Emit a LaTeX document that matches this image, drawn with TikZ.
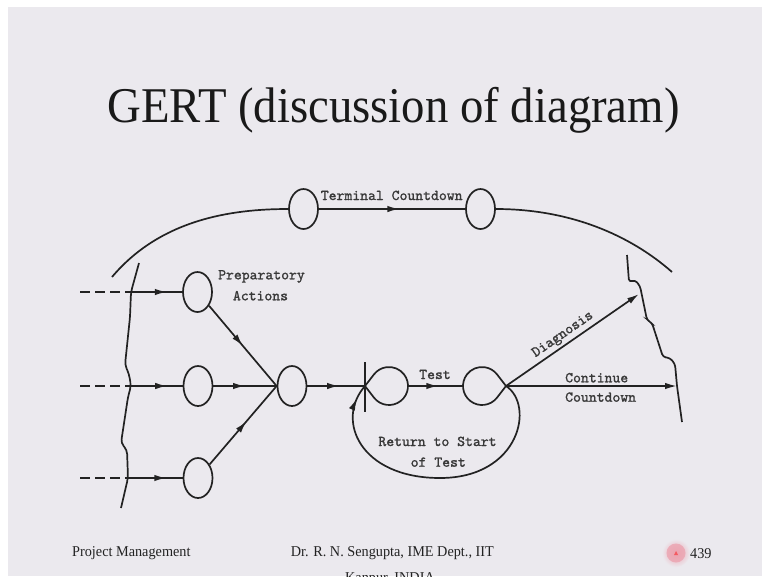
\documentclass[tikz,border=0pt]{standalone}
\usepackage{fontspec}
\setmainfont{Liberation Serif}
\newfontfamily\diagfont[FakeBold=1.3]{lmmono10-regular.otf}
\usetikzlibrary{arrows.meta,decorations.markings,shapes.geometric,calc}
\definecolor{slide}{HTML}{EBE9EE}
\definecolor{ink}{HTML}{222222}
\definecolor{badge}{HTML}{EBA3B0}
\tikzset{
  ln/.style={line width=1.7, draw=ink},
  ev/.style={ellipse, draw=ink, line width=1.7, minimum width=29, minimum height=40, inner sep=0},
  lbl/.style={font=\fontsize{15}{20}\selectfont\diagfont, text=ink!90, inner sep=0},
  foot/.style={font=\fontsize{15}{18}\selectfont, text=ink, xscale=0.95, inner sep=0},
  tip/.style={-{Latex[length=12,width=6.5]}},
  midarrow/.style={postaction={decorate}, decoration={markings,
      mark=at position #1 with {\arrow{Latex[length=12,width=6.5]}}}},
}
\begin{document}
\begin{tikzpicture}[x=1pt,y=-1pt]
\useasboundingbox (0,0) rectangle (762,576);
\clip (0,0) rectangle (762,576);
% slide background
\fill[white] (0,0) rectangle (762,576);
\fill[slide] (8,7) rectangle (762,576);

% title
\node[font=\fontsize{50}{55}\selectfont, text=black!90, xscale=0.935, anchor=base] (title) at (393.5,122) {GERT (discussion of diagram)};

% event nodes
\node[ev] (tc1) at (303.5,209) {};
\node[ev] (tc2) at (480.5,209) {};
\node[ev] (p1) at (197.5,292) {};
\node[ev] (p2) at (198,386) {};
\node[ev] (p3) at (198,478) {};
\node[ev] (m) at (292,386) {};

% test start and end points
\coordinate (s) at (365,386);
\coordinate (sc) at (389,386);
\coordinate (sR) at (408,386);
\coordinate (e) at (506,386);
\coordinate (ec) at (482,386);
\coordinate (eL) at (463,386);
\coordinate (sTop) at (365,362);
\coordinate (sBot) at (365,412);

% junctions on the incoming boundary and free ends
\coordinate (j1) at (131,292);
\coordinate (j2) at (131,386);
\coordinate (j3) at (128,478);
\coordinate (d1) at (80,292);
\coordinate (d2) at (80,386);
\coordinate (d3) at (80,478);
\coordinate (aL) at (112,277);
\coordinate (aR) at (672,272);
\coordinate (dg) at (639,294);
\coordinate (cc) at (677,386);

% teardrop-shaped test nodes
\draw[ln, line join=round] (s) -- ([shift={(142.3:19)}]sc) arc[start angle=142.3, end angle=-142.3, radius=19] -- cycle;
\draw[ln] (sTop) -- (sBot);
\draw[ln, line join=round] (e) -- ([shift={(37.7:19)}]ec) arc[start angle=37.7, end angle=322.3, radius=19] -- cycle;

% terminal countdown arc
\draw[ln] (aL) .. controls (160,220) and (230,209) .. (tc1.west);
\draw[ln, midarrow=0.55] (tc1) -- (tc2);
\draw[ln] (tc2.east) .. controls (570,209) and (630,235) .. (aR);

% incoming boundary
\draw[ln, rounded corners=4] (139,263) -- (j1) -- (130,317) -- (125,365) -- (129,374) -- (j2)
  -- (128,397) -- (121,443) -- (127,450) -- (j3) -- (121,508);
\draw[ln, dash pattern=on 10 off 5] (d1) -- (j1);
\draw[ln, dash pattern=on 10 off 5] (d2) -- (j2);
\draw[ln, dash pattern=on 10 off 5] (d3) -- (j3);
\draw[ln, midarrow=0.7] (j1) -- (p1);
\draw[ln, midarrow=0.7] (j2) -- (p2);
\draw[ln, midarrow=0.7] (j3) -- (p3);

% preparatory actions merge
\draw[ln, midarrow=0.5] (p1) -- (m.west);
\draw[ln, midarrow=0.5] (p2) -- (m);
\draw[ln, midarrow=0.55] (p3) -- (m.west);
\draw[ln, midarrow=0.55] (m) -- (s);

% test and its outcomes
\draw[ln, midarrow=0.55] (sR) -- (eL);
\draw[ln, tip] (e) -- (dg) node[lbl, pos=0.47, sloped, above=2.5] {Diagnosis};
\draw[ln, tip] (e) -- (cc);
\draw[ln, midarrow=0.95] (e) .. controls (535,405) and (520,478) .. (440,478)
  .. controls (360,478) and (335,420) .. (s);

% outgoing boundary
\draw[ln, rounded corners=3] (627,255) -- (629,282) -- (635,280) -- (640,286) -- (647,320)
  -- (652,323) -- (663,357) -- (670,358) -- (675,364) -- (cc) -- (682,422);

% labels
\node[lbl, anchor=base] at (391.7,200) {Terminal Countdown};
\node[lbl, anchor=base] at (261.5,279.3) {Preparatory};
\node[lbl, anchor=base] at (260.5,300.3) {Actions};
\node[lbl, anchor=base] at (435,379) {Test};
\node[lbl, anchor=base west] at (565,382.3) {Continue};
\node[lbl, anchor=base west] at (565,401.7) {Countdown};
\node[lbl, anchor=base] at (437.5,446) {Return to Start};
\node[lbl, anchor=base] at (438.3,466.7) {of Test};

% footer
\node[foot, anchor=base west] at (72,556.7) {Project Management};
\node[foot, anchor=base] at (392.3,556.7) {Dr. R. N. Sengupta, IME Dept., IIT};
\node[foot, anchor=base] at (390,582) {Kanpur, INDIA};
\shade[inner color=badge, outer color=slide] (676,553) circle (14);
\fill[badge, opacity=0.8] (676,553) circle (9.5);
\fill[red!45!badge] (674,555) -- (678,555) -- (676,551) -- cycle;
\node[foot, anchor=base west] at (690,558) {439};
\end{tikzpicture}
\end{document}
